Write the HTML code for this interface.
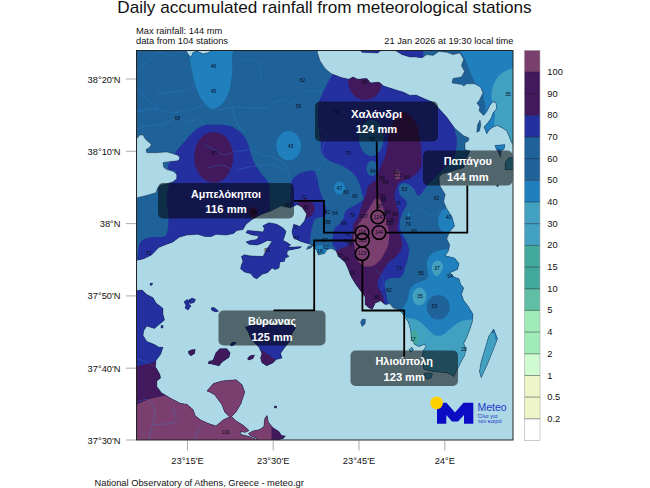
<!DOCTYPE html>
<html><head><meta charset="utf-8"><title>Daily accumulated rainfall</title>
<style>
html,body{margin:0;padding:0;background:#fff;}
body{width:650px;height:488px;overflow:hidden;font-family:"Liberation Sans",sans-serif;}
svg{display:block;}
text{font-family:"Liberation Sans",sans-serif;}
.t{font-size:17.15px;fill:#111;}
.h{font-size:9.3px;fill:#111;}
.k{font-size:9.3px;fill:#111;}
.s{font-size:4.9px;fill:#060a18;text-anchor:middle;}
.c{font-size:4.9px;fill:#10061a;text-anchor:middle;}
.b{font-size:11.7px;font-weight:bold;fill:#fff;text-anchor:middle;}
</style></head><body>
<svg width="650" height="488" viewBox="0 0 650 488">
<defs>
<clipPath id="mapclip"><rect x="136.5" y="50.5" width="376.5" height="389.5"/></clipPath>
<clipPath id="land"><path d="M136,50 L186,50 L188,54 L191,57.5 L193,52.5 L197,51 L203,54 L209,52.5 L211,50 L317.5,50 L317.5,53 L320,60.8 L325,68.5 L331.4,73.8 L342,77.7 L349,79.2 L353,77 L357.5,79.2 L366.8,78.5 L370.6,83 L379,82.3 L383.7,86 L396,90 L403.7,92.3 L410,95.4 L416,95 L425,99 L433,102.3 L437.5,107 L446.8,117.3 L454.5,128 L463.7,135.8 L469,138 L468.3,141 L465,142.7 L465,149.6 L470,151 L466,160 L463.7,167.7 L452,171 L442,174 L439,177 L439.8,185.4 L445.2,194.6 L443.7,201.5 L446.8,209 L452,217 L454.5,226 L449.8,231.5 L446.8,238.8 L449.8,245 L448.3,251 L445.2,255.8 L454.5,258 L459,263.5 L457.5,269.6 L449.8,272.7 L454.5,277.3 L459,278.8 L460.6,284.2 L463.7,288 L461.4,294.2 L463.7,300.4 L468.3,306.5 L473,314.2 L472.2,322 L469.8,329.6 L466.8,337.3 L463.7,343.5 L466,349.6 L464.5,355.8 L462.5,359 L458.7,366.5 L453.7,376.5 L447.5,372.7 L432.5,371.5 L423.7,369 L422.5,356.5 L423,351 L426,346.5 L424.5,344.2 L419,346.5 L414.5,344.2 L411.4,338.8 L410.6,329.6 L408.3,322 L405.2,317.3 L402,313 L399,310 L393,307.7 L389.8,303.8 L385.2,304.6 L380.6,300.8 L375.2,303 L372.2,309.2 L369,307.7 L365.2,304.6 L365.2,297 L360.6,290.8 L356,284.6 L351.4,277 L348.3,269.2 L345.2,262.3 L339,257 L336,250.8 L331.4,248.5 L327,249.5 L324.5,253.5 L318.3,255 L316.8,250.4 L312,245 L307.5,243.5 L299.8,241 L293.7,238 L292,232 L293.7,224.2 L299.8,226.5 L304.5,221 L306.8,214 L302,207 L297.5,204.6 L290,207.7 L280.6,206 L271.4,210.8 L262,214 L254.5,218 L252,219.6 L246,224.2 L243,229.6 L236.8,230.4 L233.7,233.5 L226,235 L216,234.2 L211.4,236.5 L205.2,236.5 L197.5,234.2 L186.8,235 L179,237.3 L173,242 L166.8,244.2 L159,247.3 L151.4,255 L143.7,258.8 L136,260.4 L136,198 L145.2,195.8 L156,192.7 L157.5,188 L160.6,185 L165.2,184.2 L172.9,181.9 L176.8,178.8 L176.8,174.2 L172.9,171.2 L166.8,169.6 L163.7,167.3 L162.9,162.7 L166.8,161.9 L174.5,161.2 L179,160.4 L179.8,157.3 L177.5,155 L166.8,151.9 L156,152.7 L146.8,152.7 L146,149.6 L149.8,147.3 L151.4,144.2 L147.5,141.2 L145.2,138.8 L142.9,135 L139.8,135 L136,139.6ZM136,290.8 L142,290 L146.8,294.6 L153,297.7 L156,303 L163,308.5 L163,314.6 L164.5,320 L159,324.6 L154.5,328.5 L146.8,326 L143.7,330.8 L143,335.4 L146.8,341.5 L154.5,344.6 L159,347.3 L163,347.3 L160.6,354.2 L156,360.4 L155.2,366.5 L159.8,374.2 L160.6,378 L156.8,381 L156.8,386.5 L161.4,392.7 L171.4,398.8 L180.6,403.5 L186.8,404.2 L193,409.6 L195.2,415.8 L200.6,420 L208.5,423.5 L216,426 L223.5,419.7 L229.7,417 L224.7,412 L222,404.7 L214.7,394.7 L209.7,392 L207,391 L213.5,383.5 L222,381 L236,379.7 L242,384.7 L244.7,392 L241,403.5 L236,412 L231.5,416.5 L236.2,421 L243.5,425.5 L249,430.5 L245.4,432.3 L240,431.8 L241,434.5 L248.5,436.3 L256,439.3 L259,441 L136,441ZM248.5,433.5 L253,431 L259.2,429.8 L263.8,426.8 L264.8,418.5 L267,415.4 L268.5,422.5 L273,427.7 L279.2,431.7 L281.4,435.4 L285.4,436 L283.2,438.5 L274.6,441 L259.2,441 L256,438 L250,435.4ZM262.9,225.8 L269,222.7 L276.8,224.2 L283,228 L286,231.2 L284.5,236.5 L283,240.4 L287.5,242.7 L290.6,245 L287.5,247.3 L301.4,246.8 L299.8,248 L287.5,250.4 L286.8,254.2 L289,256.5 L285.2,258 L284.5,261.2 L279.8,262 L279,268 L275.2,269.6 L272.2,268 L267.5,272.7 L262.2,274.2 L256.8,278.8 L253.7,277.3 L250.6,273.5 L244.5,272 L240.6,268.8 L241.4,265 L243,261.2 L241.4,256.5 L244.5,254.7 L249,255.8 L263,256.5 L267.5,248 L272.2,241.2 L267.5,240.4 L261.4,243.5 L256.8,245 L249,244.2 L246,242 L250.6,240.4 L256.8,239.6 L259,235.8 L252.2,235 L246,232.7 L247.5,230.4 L256.8,231.2 L263,232 L264.5,228.8ZM245.2,327.3 L253,325 L277.5,325 L293,325 L296,327.3 L292,333.5 L290,341 L283.7,348.8 L280.6,353.5 L282,358 L276,359.6 L273,362.7 L266.8,365.8 L262,362.7 L260.6,358 L262,353.5 L259,347.3 L251.4,339.6 L248.3,332ZM213,360.4 L216,352.7 L219.8,348.8 L226.8,348.8 L230,352.7 L229,357.3 L222,362 L219,365.8 L213,364.2 L208.3,363.5 L209,361.2ZM359,49 L362,52.3 L377.5,53 L380.6,50.8 L388,49.5 L396,50.8 L402,54.6 L410,57 L416,57 L422,57.7 L426.8,54.6 L433,55.4 L439,51.5 L446.8,52.3 L453,54.6 L459.8,53 L463.7,59.2 L461.4,65.4 L464.5,71.5 L461.4,77 L453,78.5 L452,83 L462,84.6 L463.7,86 L466.8,83.8 L474.5,83.8 L480.6,87 L483,93 L479,100.8 L476.8,103 L479.8,107 L479,110.8 L483.7,115.4 L486.8,111.5 L489.8,105.4 L493,101.5 L496,103 L496.8,108.5 L493,113 L491.4,117.7 L488.3,122.3 L484,127 L486.8,133.8 L489,130 L493,127 L497.5,125.4 L502,127.7 L506.8,130.8 L509,136 L511.4,142.3 L514,146 L514,49ZM493.7,329 L497.5,339 L492.5,351.5 L487.5,364 L481.2,377.7 L479.5,371.5 L481.2,361.5 L485,349 L488.7,336.5ZM184,302 L187,299.5 L190,301 L189,304 L191,306 L188,310 L185,308 L186,305ZM189,300 L192,298 L195.5,299.5 L194,302.5 L190.5,303.5ZM211,308 L214,307.5 L218.5,311 L216,312 L212,310.5ZM188.3,351.5 L191,350 L195.2,349.6 L194.5,353.5 L191,355.8 L189,354ZM230.6,344 L233,342 L236,342.5 L234,345 L231,346ZM247.5,359 L249.5,356 L254.5,355 L253,358.5 L249,360ZM476.8,132.3 L477.5,125 L480,120 L480.8,125 L479.5,131ZM495,145.5 L500,145 L505,144.8 L504,149 L501,151 L500.5,157.5 L498.8,153 L496.5,149.5ZM505,169.6 L505.5,162 L508.5,158 L514,157 L514,169.6ZM423.7,374 L427,372.7 L432.5,374 L431,378 L426,379ZM274.5,406 L276.5,406 L276.5,408 L274.5,408ZM150,283.5 L152.5,283 L152,285 L150.5,285.5ZM161,325.5 L163,325.5 L163,328 L161,328ZM308,246.5 L313,245 L311,248 L306.5,249.5ZM294,227 L297,225 L296,229ZM409,349.5 L412,347.5 L413.5,350 L410.5,352ZM496.8,185 L498.3,185 L498.3,186.6 L496.8,186.6ZM360.5,322 L362.5,319 L365.5,319.5 L365,324 L362,326.5Z"/></clipPath>
</defs>
<rect x="0" y="0" width="650" height="488" fill="#fff"/>
<text class="t" x="324.5" y="12.9" text-anchor="middle">Daily accumulated rainfall from meteorological stations</text>
<text class="h" x="136" y="33.8">Max rainfall: 144 mm</text>
<text class="h" x="136" y="43.9">data from 104 stations</text>
<text class="h" x="513.5" y="43.9" text-anchor="end">21 Jan 2026 at 19:30 local time</text>
<text class="h" x="94.5" y="485.5">National Observatory of Athens, Greece - meteo.gr</text>
<g clip-path="url(#mapclip)">
<rect x="130" y="45" width="390" height="400" fill="#ADD8E6"/>
<g clip-path="url(#land)">
<rect x="130" y="45" width="390" height="400" fill="#1F6299"/>
<path d="M189.8,40C182.8,43 189.4,52.7 189.8,57.7C190.2,62.7 191.1,65.6 192,70C192.9,74.4 193.6,79.4 195,84C196.4,88.6 198.5,94 200.6,97.7C202.7,101.4 205.3,104.2 207.5,106C209.7,107.8 211.3,108.8 213.7,108.5C216.1,108.2 219.4,106.8 222,104C224.6,101.2 227.3,96.7 229,91.5C230.7,86.3 231.5,78.8 232,73C232.5,67.2 232,62.5 232,57C232,51.5 239,42.8 232,40C225,37.2 196.8,37 189.8,40Z" fill="#1F80BD"/>
<ellipse cx="288.6" cy="145.7" rx="12.3" ry="14.6" fill="#1F80BD"/>
<ellipse cx="339.5" cy="188" rx="5.5" ry="6.5" fill="#1F80BD"/>
<ellipse cx="322" cy="249.5" rx="8" ry="4.5" fill="#1F80BD"/>
<path d="M446.8,249.6C450.6,249.4 455.6,248.1 462,249C468.4,249.9 481.2,239 485,255C488.8,271 499.5,330 485,345C470.5,360 412.2,349.8 398,345C383.8,340.2 398.4,323.5 400,316C401.6,308.5 405.9,304.4 407.5,300C409.1,295.6 408.4,292.4 409.8,289.6C411.2,286.9 413.2,285.3 416,283.5C418.8,281.7 424.9,280.9 426.8,278.8C428.7,276.7 427.5,273.8 427.5,271C427.5,268.2 426.2,264.8 426.8,262C427.4,259.2 429.4,255.9 431.4,254C433.4,252.1 436.4,251.1 439,250.4C441.6,249.7 443,249.8 446.8,249.6Z" fill="#1F80BD"/>
<ellipse cx="447.5" cy="221" rx="9.5" ry="12.5" fill="#1F80BD"/>
<path d="M408.7,212 L411,217.5 L406.5,217.5Z" fill="#1F80BD"/>
<path d="M463.7,45C454.8,47.9 465.5,57.4 466.8,62.3C468.1,67.2 469.9,71 471.4,74.6C472.9,78.2 474.1,81.4 476,84C477.9,86.6 481.7,87.5 483,90C484.3,92.5 483.3,96.2 483.7,99C484.1,101.8 485.4,104 485.5,107C485.6,110 484.2,112.3 484,117C483.8,121.7 478,129.5 484,135C490,140.5 514,165 520,150C526,135 529.4,62.5 520,45C510.6,27.5 472.6,42.1 463.7,45Z" fill="#1F80BD"/>
<path d="M494,143 L506,143 L506,148.5 L494,148.5Z" fill="#1F80BD"/>
<path d="M520,66C518.8,51.5 516,66.5 513,67.7C510,68.9 505.1,70.6 502,73C498.9,75.4 496.3,78.7 494.5,82.3C492.7,85.9 491.6,91 491.4,94.6C491.1,98.2 492.4,100.7 493,104C493.6,107.3 494.8,110.8 495,114.6C495.2,118.4 493.7,122.8 494.5,127C495.3,131.2 495.8,135.3 500,140C504.2,144.7 516.7,167.3 520,155C523.3,142.7 521.2,80.5 520,66Z" fill="#42A0C0"/>
<path d="M436.8,260.7C439.1,260.3 440.9,261.4 442.2,263.5C443.5,265.6 443.3,266.7 442.2,269.6C441.1,272.5 439.6,275.1 437.5,275.8C435.4,276.5 434.2,275.2 433,272.7C431.8,270.2 431.3,267.8 432.2,265C433.1,262.2 434.5,261.1 436.8,260.7Z" fill="#42A0C0"/>
<ellipse cx="419.4" cy="296.5" rx="7" ry="9" fill="#42A0C0"/>
<path d="M400,316C401.6,304 404.8,317.4 407.5,318C410.2,318.6 413.3,318.4 416,319.6C418.7,320.8 421.1,322.8 423.7,325C426.3,327.2 429.1,330.9 431.4,332.7C433.7,334.5 435.4,335.6 437.5,335.8C439.6,336.1 441.1,335.8 443.7,334.2C446.3,332.6 449.9,328.7 453,326.5C456.1,324.3 458.8,322.1 462,321C465.2,319.9 468.9,319.9 472.2,319.6C475.5,319.3 480.4,307.3 482,319C483.6,330.7 496,378.2 482,390C468,401.8 411.7,402.3 398,390C384.3,377.7 398.4,328 400,316Z" fill="#42A0C0"/>
<path d="M478,333 L500,333 L500,380 L478,380Z" fill="#42A0C0"/>
<path d="M493,327 L499,327 L499,337 L495.5,340Z" fill="#1F80BD"/>
<path d="M503,156 L515,156 L515,171 L503,171Z" fill="#42A0C0"/>
<ellipse cx="414.3" cy="338" rx="4" ry="7.5" fill="#42A89C"/>
<ellipse cx="438.3" cy="307.3" rx="11.5" ry="12.3" fill="#1F6299"/>
<path d="M137.5,262C137.5,261.5 137.2,262.8 137.5,259.6C137.8,256.4 137.8,249.8 139,245.8C140.2,241.8 141.2,241.3 143.7,239.6C146.2,237.9 147.4,237.9 151.4,237.3C155.4,236.7 160.5,237.9 163.7,236.5C166.9,235.1 166.6,234.1 167.5,230.4C168.4,226.7 168.4,223.1 168.3,218C168.2,212.9 167.3,209.6 167,205C166.7,200.4 166.2,199.6 166.8,195C167.4,190.4 168.2,186.6 170,182C171.8,177.4 176.4,174.8 176,172C175.6,169.2 168.3,171.6 168,168C167.7,164.4 171.1,159.4 174.5,154C177.9,148.6 180.7,145.9 185,141C189.3,136.1 192.2,132.6 196,129.5C199.8,126.4 200.8,126.5 204,125.5C207.2,124.5 207.8,124.7 212,124.6C216.2,124.5 220.5,124.3 225,125C229.5,125.7 230.9,126 234.5,128C238.1,130 240.2,131.6 243,135C245.8,138.4 246.5,140 248.5,145C250.5,150 250.5,154.4 253,160C255.5,165.6 258,168.6 261,173C264,177.4 266.3,178.6 268,182C269.7,185.4 269.1,184 269.5,190C269.9,196 269.9,207.6 270,212 L290,222 L306,240 L306,290 L300,330 L300,372 L130,372 L130,262Z" fill="#2530A0"/>
<path d="M291.4,183C292.8,176.2 293.1,178.6 296,176C298.9,173.4 299.7,173.2 303.7,172C307.7,170.8 309.9,169.9 313,170.8C316.1,171.7 315.2,171.5 316.8,176C318.4,180.5 318,184.1 319.7,190C321.4,195.9 322.4,196.5 324,201.5C325.6,206.5 326.6,208 326.4,211.5C326.2,215 325.7,214.8 323.3,216.5C320.9,218.2 318.5,216.5 316,218.7C313.5,220.9 313.8,221.6 312.5,225.9C311.2,230.2 311,233.3 310.3,237.3C309.6,241.3 311.1,240.5 309.6,243C308.1,245.5 309.7,246.8 304,248C298.3,249.2 288.7,253.4 285,248C281.3,242.6 286.8,235 288,225C289.2,215 289.2,214.8 290,205C290.8,195.2 290,189.8 291.4,183Z" fill="#2530A0"/>
<path d="M332,75.4C328.7,80.1 328.5,81.2 326,86C323.5,90.8 323,92.3 321.4,96C319.8,99.7 319.8,97.6 319,102C318.2,106.4 318,108.5 318,115C318,121.5 318.4,123.9 319,130C319.6,136.1 319.9,135.5 320.6,141C321.3,146.5 319.8,148.8 322,153.5C324.2,158.2 325.3,158.1 330,161C334.7,163.9 336.6,162.9 342,165.8C347.4,168.7 349,169.6 353,173.5C357,177.4 356.9,178 359,182.7C361.1,187.4 361,189.8 362,193.5C363,197.2 364.1,196.4 363.4,198.6C362.7,200.8 362.4,200.7 359,203C355.6,205.3 352.3,206.3 349,208.6C345.7,210.9 346.1,210.6 344.8,213C343.5,215.4 344.7,216 343.3,218.7C341.9,221.4 340.8,222.4 339,224.4C337.2,226.4 336.8,225.3 335.5,227.3C334.2,229.3 334,229 333.3,233C332.6,237 332.3,241.1 332.6,244.5C332.9,247.9 333.9,245.9 334.7,247.4C335.5,248.9 335.2,247.6 336,251C336.8,254.4 334.7,254.1 338,262C341.3,269.9 344.4,273.3 350,285C355.6,296.7 352.7,305.2 362,312C371.3,318.8 383.9,315.7 390,314C396.1,312.3 389.2,309.7 388.3,304.6C387.4,299.5 386.8,297 386,292C385.2,287 384.1,286.1 385,283C385.9,279.9 386.2,279.9 389.8,278.5C393.4,277.1 397,279.5 400.6,277C404.2,274.5 403.4,272.5 405.2,267.7C407,262.9 407.6,261.6 408.3,256.5C409,251.4 409.8,251.2 408.3,245.8C406.8,240.4 404,238.4 402,233.5C400,228.6 399.8,229.2 399.8,224.6C399.8,220 400.4,218.8 402,213.8C403.6,208.8 407.1,207.3 406.8,203C406.5,198.7 402.4,198.4 400.6,195.4C398.8,192.4 399.2,192.3 399,190C398.8,187.7 398.4,187 399.8,185.4C401.2,183.8 402.1,182.5 405.2,183C408.3,183.5 409.8,184.8 413,187.7C416.2,190.6 415.5,196.1 419,195.4C422.5,194.7 423,190.1 428,184.6C433,179.1 435,177.7 440.6,172C446.2,166.3 448.4,165.2 452,160C455.6,154.8 454.9,154.5 456,149.6C457.1,144.7 457.2,144 456.8,139C456.4,134 455.6,134.8 454.5,128C453.4,121.2 455.4,117 452,110C448.6,103 447.5,103.6 440,98C432.5,92.4 434,92.5 420,86C406,79.5 398.7,74.7 380,70C361.3,65.3 351.2,64.7 340,66C328.8,67.3 335.3,70.7 332,75.4Z" fill="#2530A0"/>
<path d="M355,45 L423,45 L423.5,57 L420,60 L355,60Z" fill="#2530A0"/>
<ellipse cx="371.3" cy="138" rx="12.3" ry="18" fill="#1F6299"/>
<ellipse cx="372" cy="168.3" rx="5.6" ry="7.6" fill="#1F6299"/>
<ellipse cx="213.7" cy="157.3" rx="19.6" ry="25.4" fill="#42195C"/>
<ellipse cx="365.2" cy="81" rx="17" ry="19" fill="#42195C"/>
<ellipse cx="253.3" cy="212.4" rx="4.5" ry="5.5" fill="#42195C"/>
<ellipse cx="305.5" cy="208.5" rx="9" ry="9.5" fill="#42195C"/>
<path d="M405,112C409.1,113.8 411.9,115.4 415.5,122.5C419.1,129.6 419.1,133.8 420.5,142.5C421.9,151.2 421.7,154.1 421.7,160C421.7,165.9 422.3,164.1 420.6,167.7C418.9,171.3 418.1,172.5 414.5,175.4C410.9,178.3 408.8,178.2 405.2,180C401.6,181.8 401.1,180.9 399,183C396.9,185.1 397.1,186.2 396,189C394.9,191.8 394.5,191.5 394.5,195C394.5,198.5 394.9,199.3 396,204C397.1,208.7 398.6,209.2 399,215C399.4,220.8 397.3,224.3 397.5,229C397.7,233.7 398.9,231.1 400,235C401.1,238.9 402.9,240.8 402,245.8C401.1,250.8 399.2,252.5 396,256.5C392.8,260.5 391.9,258.6 388.3,263C384.7,267.4 383.1,270.4 380.6,275.4C378.1,280.4 377.2,280.3 377.5,284.6C377.8,288.9 380.6,290.2 382,294C383.4,297.8 383.2,296.1 383.7,300.8C384.2,305.5 389.5,310.9 384,314C378.5,317.1 369.1,325.2 360,314C350.9,302.8 350.6,280.2 345,266C339.4,251.8 337.7,256.7 336,253C334.3,249.3 335.9,251.6 337.6,250.3C339.3,249 340.6,248.8 343.3,247.4C346,246 346.8,247.9 349,244.5C351.2,241.1 351.7,237.7 352.7,233C353.7,228.3 352.2,228.1 353.4,224.4C354.6,220.7 355.7,222 357.7,217.3C359.7,212.6 360.1,209.7 362,204.3C363.9,198.9 364.5,198.6 366,194.3C367.5,190 366,189.4 368.3,186C370.6,182.6 373.5,183.2 376,179.6C378.5,176 376.7,176.6 379,170.4C381.3,164.2 383.7,161.3 386,153C388.3,144.7 387.7,141.5 389,135C390.3,128.5 389.4,129.7 391.5,125C393.6,120.3 394.9,118 398,115C401.1,112 400.9,110.2 405,112Z" fill="#42195C"/>
<path d="M130,367.5C131.2,367.3 130.8,367.8 136,366.5C141.2,365.2 148.2,363.9 156,361C163.8,358.1 168.2,354.8 175,352C181.8,349.2 183,348.4 190,347C197,345.6 201,345.3 210,345C219,344.7 227,345.2 235,345.5C243,345.8 244.6,345.5 250,346.5C255.4,347.5 256.8,347.6 262,350.4C267.2,353.2 270,355.7 276,360.4C282,365.1 288.8,371.3 292,374 L300,445 L130,445Z" fill="#42195C"/>
<path d="M376,198C373.6,200.1 373.7,201.2 370,207C366.3,212.8 365.3,214.6 362,219.6C358.7,224.6 359.7,221.7 357.5,225.8C355.3,229.9 354.5,229.7 353.7,235C352.9,240.3 353.7,240.1 354.5,245.8C355.3,251.5 355.2,251.6 356.8,256.5C358.4,261.4 357.5,261.3 360.6,264C363.7,266.7 363.8,266.8 368.3,266.5C372.8,266.2 373,266.6 377.5,262.7C382,258.8 381.9,258.2 385,252C388.1,245.8 388.3,246.6 389,239.6C389.7,232.6 388.6,232.4 387.5,225.8C386.4,219.2 386.5,220.8 385,215C383.5,209.2 383.6,208.3 382,204C380.4,199.7 380.6,200.6 379,199C377.4,197.4 378.4,195.9 376,198Z" fill="#7B3F6F"/>
<ellipse cx="397.5" cy="174.6" rx="3" ry="5" fill="#7B3F6F"/>
<path d="M130,407C131.2,406.6 132,406.6 136,405C140,403.4 144.2,400.9 150,399C155.8,397.1 158,397.5 165,395.5C172,393.5 178,392.1 185,389C192,385.9 194,383 200,380C206,377 207,375.4 215,374C223,372.6 232,371.8 240,373C248,374.2 250,375.6 255,380C260,384.4 261.8,389 265,395C268.2,401 269.7,404 271,410C272.3,416 271.4,422 271.5,425 L271.5,445 L130,445Z" fill="#7B3F6F"/>
<path d="M136,70C138.3,68.3 146,63 150,60C154,57 156.7,52.7 160,52C163.3,51.3 166.7,56.2 170,56C173.3,55.8 178.3,51.8 180,51" fill="none" stroke="#2E86D6" stroke-opacity="0.55" stroke-width="0.6"/>
<path d="M136,87C137.7,88.8 142.8,95 146,98C149.2,101 153.3,103.2 155,105C156.7,106.8 157.2,108.2 156,109C154.8,109.8 151.3,109.5 148,110C144.7,110.5 138,111.7 136,112" fill="none" stroke="#2E86D6" stroke-opacity="0.55" stroke-width="0.6"/>
<path d="M156,94C159.2,93.7 170,92.7 175,92C180,91.3 182.7,91.3 186,90C189.3,88.7 193.5,85 195,84" fill="none" stroke="#2E86D6" stroke-opacity="0.55" stroke-width="0.6"/>
<path d="M136,112C138.3,111.3 144.3,108 150,108C155.7,108 165,111.3 170,112C175,112.7 175.7,112.7 180,112C184.3,111.3 192,109.2 196,108C200,106.8 202.7,105.5 204,105" fill="none" stroke="#2E86D6" stroke-opacity="0.55" stroke-width="0.6"/>
<path d="M204,105C205.8,105.8 210.7,109.5 215,110C219.3,110.5 226.5,108.7 230,108C233.5,107.3 235,106.3 236,106" fill="none" stroke="#2E86D6" stroke-opacity="0.55" stroke-width="0.6"/>
<path d="M236,62C238.3,61.5 245.7,58.7 250,59C254.3,59.3 260.3,62.2 262,64C263.7,65.8 260.2,68 260,70C259.8,72 261.3,74 261,76C260.7,78 259.5,81 258,82C256.5,83 253,82 252,82" fill="none" stroke="#2E86D6" stroke-opacity="0.55" stroke-width="0.6"/>
<path d="M236,107C241,107.2 260,108.7 266,108C272,107.3 269,104.3 272,103C275,101.7 281,100 284,100C287,100 287.7,103.5 290,103C292.3,102.5 296,98.7 298,97C300,95.3 300,94 302,93C304,92 306.7,91.2 310,91C313.3,90.8 320,91.8 322,92" fill="none" stroke="#2E86D6" stroke-opacity="0.55" stroke-width="0.6"/>
<path d="M160,125C162.7,124 171,119.5 176,119C181,118.5 186.5,122.2 190,122C193.5,121.8 194.8,117.7 197,118C199.2,118.3 202,123 203,124" fill="none" stroke="#2E86D6" stroke-opacity="0.55" stroke-width="0.6"/>
<path d="M136,131C137.5,130.2 141,127 145,126C149,125 157.5,125.2 160,125" fill="none" stroke="#2E86D6" stroke-opacity="0.55" stroke-width="0.6"/>
<path d="M232,107C232.5,108.8 233.7,114.5 235,118C236.3,121.5 238.2,125.7 240,128C241.8,130.3 245,131.3 246,132" fill="none" stroke="#2E86D6" stroke-opacity="0.55" stroke-width="0.6"/>
<path d="M205,145C206.7,145.8 211.7,148.3 215,150C218.3,151.7 221.5,155 225,155C228.5,155 234.2,150.8 236,150" fill="none" stroke="#2E86D6" stroke-opacity="0.55" stroke-width="0.6"/>
<path d="M208,168C210.3,167.5 218,164.7 222,165C226,165.3 230.3,169.2 232,170" fill="none" stroke="#2E86D6" stroke-opacity="0.55" stroke-width="0.6"/>
<path d="M236,152C238.3,151.7 245.7,149.5 250,150C254.3,150.5 257.8,153.7 262,155C266.2,156.3 271.2,156.3 275,158C278.8,159.7 282.5,161.3 285,165C287.5,168.7 289.2,177.5 290,180" fill="none" stroke="#2E86D6" stroke-opacity="0.55" stroke-width="0.6"/>
<path d="M236,170C239.2,169.3 249.3,166.8 255,166C260.7,165.2 265,164.3 270,165C275,165.7 282.5,169.2 285,170" fill="none" stroke="#2E86D6" stroke-opacity="0.55" stroke-width="0.6"/>
<path d="M320,128C321,129.5 325.7,133.3 326,137C326.3,140.7 322.2,146.2 322,150C321.8,153.8 325.7,156.7 325,160C324.3,163.3 319.7,166.7 318,170C316.3,173.3 315.5,178.3 315,180" fill="none" stroke="#2E86D6" stroke-opacity="0.55" stroke-width="0.6"/>
<path d="M137.7,401.5C139.5,401.2 145.7,398.4 148.5,400C151.3,401.6 153.8,407 154.6,410.8C155.3,414.6 154,418.1 153,423C152,427.9 149.2,437.2 148.5,440" fill="none" stroke="#2E86D6" stroke-opacity="0.55" stroke-width="0.6"/>
<path d="M153,424.6C156.3,424.3 169.2,424.3 173,423C176.8,421.7 176,419.3 176,417C176,414.7 172.7,410 173,409C173.3,408 176.9,410.5 177.7,410.8" fill="none" stroke="#2E86D6" stroke-opacity="0.55" stroke-width="0.6"/>
<path d="M194.6,440C195.3,438.2 197.2,431.8 199,429C200.8,426.2 204.3,424 205.4,423" fill="none" stroke="#2E86D6" stroke-opacity="0.55" stroke-width="0.6"/>
<path d="M137,358.5C138.5,359.1 143.3,360.8 146,362C148.7,363.2 151.8,365.3 153,366" fill="none" stroke="#2E86D6" stroke-opacity="0.55" stroke-width="0.6"/>
<path d="M376,270C376.8,270.8 379.7,273 381,275C382.3,277 384,279.5 384,282C384,284.5 381.5,288.7 381,290" fill="none" stroke="#2E86D6" stroke-opacity="0.55" stroke-width="0.6"/>
<path d="M436,314C436.2,315.8 437.7,321.5 437,325C436.3,328.5 434,331.7 432,335C430,338.3 426.2,343.3 425,345" fill="none" stroke="#2E86D6" stroke-opacity="0.55" stroke-width="0.6"/>
<path d="M418,208C420,209.2 426.3,214.3 430,215C433.7,215.7 437.2,213.7 440,212C442.8,210.3 445.8,206.2 447,205" fill="none" stroke="#2E86D6" stroke-opacity="0.55" stroke-width="0.6"/>
</g>
<path d="M136,50 L186,50 L188,54 L191,57.5 L193,52.5 L197,51 L203,54 L209,52.5 L211,50 L317.5,50 L317.5,53 L320,60.8 L325,68.5 L331.4,73.8 L342,77.7 L349,79.2 L353,77 L357.5,79.2 L366.8,78.5 L370.6,83 L379,82.3 L383.7,86 L396,90 L403.7,92.3 L410,95.4 L416,95 L425,99 L433,102.3 L437.5,107 L446.8,117.3 L454.5,128 L463.7,135.8 L469,138 L468.3,141 L465,142.7 L465,149.6 L470,151 L466,160 L463.7,167.7 L452,171 L442,174 L439,177 L439.8,185.4 L445.2,194.6 L443.7,201.5 L446.8,209 L452,217 L454.5,226 L449.8,231.5 L446.8,238.8 L449.8,245 L448.3,251 L445.2,255.8 L454.5,258 L459,263.5 L457.5,269.6 L449.8,272.7 L454.5,277.3 L459,278.8 L460.6,284.2 L463.7,288 L461.4,294.2 L463.7,300.4 L468.3,306.5 L473,314.2 L472.2,322 L469.8,329.6 L466.8,337.3 L463.7,343.5 L466,349.6 L464.5,355.8 L462.5,359 L458.7,366.5 L453.7,376.5 L447.5,372.7 L432.5,371.5 L423.7,369 L422.5,356.5 L423,351 L426,346.5 L424.5,344.2 L419,346.5 L414.5,344.2 L411.4,338.8 L410.6,329.6 L408.3,322 L405.2,317.3 L402,313 L399,310 L393,307.7 L389.8,303.8 L385.2,304.6 L380.6,300.8 L375.2,303 L372.2,309.2 L369,307.7 L365.2,304.6 L365.2,297 L360.6,290.8 L356,284.6 L351.4,277 L348.3,269.2 L345.2,262.3 L339,257 L336,250.8 L331.4,248.5 L327,249.5 L324.5,253.5 L318.3,255 L316.8,250.4 L312,245 L307.5,243.5 L299.8,241 L293.7,238 L292,232 L293.7,224.2 L299.8,226.5 L304.5,221 L306.8,214 L302,207 L297.5,204.6 L290,207.7 L280.6,206 L271.4,210.8 L262,214 L254.5,218 L252,219.6 L246,224.2 L243,229.6 L236.8,230.4 L233.7,233.5 L226,235 L216,234.2 L211.4,236.5 L205.2,236.5 L197.5,234.2 L186.8,235 L179,237.3 L173,242 L166.8,244.2 L159,247.3 L151.4,255 L143.7,258.8 L136,260.4 L136,198 L145.2,195.8 L156,192.7 L157.5,188 L160.6,185 L165.2,184.2 L172.9,181.9 L176.8,178.8 L176.8,174.2 L172.9,171.2 L166.8,169.6 L163.7,167.3 L162.9,162.7 L166.8,161.9 L174.5,161.2 L179,160.4 L179.8,157.3 L177.5,155 L166.8,151.9 L156,152.7 L146.8,152.7 L146,149.6 L149.8,147.3 L151.4,144.2 L147.5,141.2 L145.2,138.8 L142.9,135 L139.8,135 L136,139.6ZM136,290.8 L142,290 L146.8,294.6 L153,297.7 L156,303 L163,308.5 L163,314.6 L164.5,320 L159,324.6 L154.5,328.5 L146.8,326 L143.7,330.8 L143,335.4 L146.8,341.5 L154.5,344.6 L159,347.3 L163,347.3 L160.6,354.2 L156,360.4 L155.2,366.5 L159.8,374.2 L160.6,378 L156.8,381 L156.8,386.5 L161.4,392.7 L171.4,398.8 L180.6,403.5 L186.8,404.2 L193,409.6 L195.2,415.8 L200.6,420 L208.5,423.5 L216,426 L223.5,419.7 L229.7,417 L224.7,412 L222,404.7 L214.7,394.7 L209.7,392 L207,391 L213.5,383.5 L222,381 L236,379.7 L242,384.7 L244.7,392 L241,403.5 L236,412 L231.5,416.5 L236.2,421 L243.5,425.5 L249,430.5 L245.4,432.3 L240,431.8 L241,434.5 L248.5,436.3 L256,439.3 L259,441 L136,441ZM248.5,433.5 L253,431 L259.2,429.8 L263.8,426.8 L264.8,418.5 L267,415.4 L268.5,422.5 L273,427.7 L279.2,431.7 L281.4,435.4 L285.4,436 L283.2,438.5 L274.6,441 L259.2,441 L256,438 L250,435.4ZM262.9,225.8 L269,222.7 L276.8,224.2 L283,228 L286,231.2 L284.5,236.5 L283,240.4 L287.5,242.7 L290.6,245 L287.5,247.3 L301.4,246.8 L299.8,248 L287.5,250.4 L286.8,254.2 L289,256.5 L285.2,258 L284.5,261.2 L279.8,262 L279,268 L275.2,269.6 L272.2,268 L267.5,272.7 L262.2,274.2 L256.8,278.8 L253.7,277.3 L250.6,273.5 L244.5,272 L240.6,268.8 L241.4,265 L243,261.2 L241.4,256.5 L244.5,254.7 L249,255.8 L263,256.5 L267.5,248 L272.2,241.2 L267.5,240.4 L261.4,243.5 L256.8,245 L249,244.2 L246,242 L250.6,240.4 L256.8,239.6 L259,235.8 L252.2,235 L246,232.7 L247.5,230.4 L256.8,231.2 L263,232 L264.5,228.8ZM245.2,327.3 L253,325 L277.5,325 L293,325 L296,327.3 L292,333.5 L290,341 L283.7,348.8 L280.6,353.5 L282,358 L276,359.6 L273,362.7 L266.8,365.8 L262,362.7 L260.6,358 L262,353.5 L259,347.3 L251.4,339.6 L248.3,332ZM213,360.4 L216,352.7 L219.8,348.8 L226.8,348.8 L230,352.7 L229,357.3 L222,362 L219,365.8 L213,364.2 L208.3,363.5 L209,361.2ZM359,49 L362,52.3 L377.5,53 L380.6,50.8 L388,49.5 L396,50.8 L402,54.6 L410,57 L416,57 L422,57.7 L426.8,54.6 L433,55.4 L439,51.5 L446.8,52.3 L453,54.6 L459.8,53 L463.7,59.2 L461.4,65.4 L464.5,71.5 L461.4,77 L453,78.5 L452,83 L462,84.6 L463.7,86 L466.8,83.8 L474.5,83.8 L480.6,87 L483,93 L479,100.8 L476.8,103 L479.8,107 L479,110.8 L483.7,115.4 L486.8,111.5 L489.8,105.4 L493,101.5 L496,103 L496.8,108.5 L493,113 L491.4,117.7 L488.3,122.3 L484,127 L486.8,133.8 L489,130 L493,127 L497.5,125.4 L502,127.7 L506.8,130.8 L509,136 L511.4,142.3 L514,146 L514,49ZM493.7,329 L497.5,339 L492.5,351.5 L487.5,364 L481.2,377.7 L479.5,371.5 L481.2,361.5 L485,349 L488.7,336.5ZM184,302 L187,299.5 L190,301 L189,304 L191,306 L188,310 L185,308 L186,305ZM189,300 L192,298 L195.5,299.5 L194,302.5 L190.5,303.5ZM211,308 L214,307.5 L218.5,311 L216,312 L212,310.5ZM188.3,351.5 L191,350 L195.2,349.6 L194.5,353.5 L191,355.8 L189,354ZM230.6,344 L233,342 L236,342.5 L234,345 L231,346ZM247.5,359 L249.5,356 L254.5,355 L253,358.5 L249,360ZM476.8,132.3 L477.5,125 L480,120 L480.8,125 L479.5,131ZM495,145.5 L500,145 L505,144.8 L504,149 L501,151 L500.5,157.5 L498.8,153 L496.5,149.5ZM505,169.6 L505.5,162 L508.5,158 L514,157 L514,169.6ZM423.7,374 L427,372.7 L432.5,374 L431,378 L426,379ZM274.5,406 L276.5,406 L276.5,408 L274.5,408ZM150,283.5 L152.5,283 L152,285 L150.5,285.5ZM161,325.5 L163,325.5 L163,328 L161,328ZM308,246.5 L313,245 L311,248 L306.5,249.5ZM294,227 L297,225 L296,229ZM409,349.5 L412,347.5 L413.5,350 L410.5,352ZM496.8,185 L498.3,185 L498.3,186.6 L496.8,186.6ZM360.5,322 L362.5,319 L365.5,319.5 L365,324 L362,326.5Z" fill="none" stroke="#0b1530" stroke-opacity="0.8" stroke-width="0.45" stroke-linejoin="round"/>
<text class="s" x="213.5" y="67.7">46</text><text class="s" x="213.5" y="92.7">45</text><text class="s" x="177.5" y="120.2">68</text><text class="s" x="214.5" y="154.7">87</text><text class="s" x="302.5" y="81.7">62</text><text class="s" x="298.5" y="108.2">56</text><text class="s" x="290.5" y="148.2">43</text><text class="s" x="364.5" y="84.2">94</text><text class="s" x="336.5" y="114.2">79</text><text class="s" x="348.3" y="155.2">79</text><text class="s" x="372.5" y="141.2">56</text><text class="s" x="373" y="172.7">64</text><text class="s" x="382" y="179.7">85</text><text class="s" x="385.5" y="184.2">84</text><text class="s" x="396.5" y="173.7">98</text><text class="s" x="397.5" y="176.7">113</text><text class="s" x="407" y="179.2">81</text><text class="s" x="404.5" y="190.7">53</text><text class="s" x="339.5" y="190.2">47</text><text class="s" x="346" y="193.7">60</text><text class="s" x="355" y="198.2">60</text><text class="s" x="383" y="197.7">92</text><text class="s" x="383.5" y="202.2">88</text><text class="s" x="380" y="207.7">97</text><text class="s" x="304" y="198.7">72</text><text class="s" x="306" y="208.7">65</text><text class="s" x="335" y="214.7">64</text><text class="s" x="352" y="216.7">79</text><text class="s" x="344" y="225.2">69</text><text class="s" x="347.5" y="236.2">71</text><text class="s" x="350" y="245.7">78</text><text class="s" x="346" y="242.7">75</text><text class="s" x="325" y="241.7">57</text><text class="s" x="326" y="248.7">62</text><text class="s" x="320" y="252.7">18</text><text class="s" x="340" y="256.7">65</text><text class="s" x="346" y="261.2">64</text><text class="s" x="352" y="274.7">93</text><text class="s" x="398" y="204.7">76</text><text class="s" x="395" y="215.7">84</text><text class="s" x="408" y="220.2">44</text><text class="s" x="408" y="226.2">70</text><text class="s" x="414" y="233.2">60</text><text class="s" x="436.5" y="200.2">62</text><text class="s" x="448.5" y="219.2">40</text><text class="s" x="399" y="269.7">73</text><text class="s" x="421" y="274.7">55</text><text class="s" x="437" y="270.2">37</text><text class="s" x="389" y="291.7">62</text><text class="s" x="377" y="298.7">85</text><text class="s" x="420" y="298.2">35</text><text class="s" x="434.5" y="308.2">53</text><text class="s" x="413" y="340.7">17</text><text class="s" x="464" y="350.7">28</text><text class="s" x="508" y="95.7">35</text><text class="s" x="148.5" y="255.2">70</text><text class="s" x="267" y="251.7">80</text><text class="s" x="296.5" y="240.2">77</text><text class="s" x="225.5" y="434.2">100</text><text class="s" x="253.5" y="213.7">99</text><text class="s" x="287.5" y="207.2">80</text><text class="s" x="384" y="215.7">79</text><text class="s" x="388" y="213.7">89</text><text class="s" x="364" y="217.7">107</text><text class="s" x="390" y="221.7">120</text><text class="s" x="327.5" y="213.7">82</text><text class="s" x="328" y="223.7">88</text><text class="s" x="389" y="224.7">100</text><text class="s" x="450" y="278.2">54</text>
<path d="M376.7,141.5 L377.4,209.8" fill="none" stroke="#000" stroke-width="1.8" stroke-linejoin="miter"/>
<path d="M385.8,232.6 L467.3,232.6 L467.3,185.5" fill="none" stroke="#000" stroke-width="1.8" stroke-linejoin="miter"/>
<path d="M294,200.8 L324,200.8 L324,232.6 L355.4,232.6" fill="none" stroke="#000" stroke-width="1.8" stroke-linejoin="miter"/>
<path d="M355.4,240.5 L314.2,240.5 L314.2,310.4 L273.5,310.4" fill="none" stroke="#000" stroke-width="1.8" stroke-linejoin="miter"/>
<path d="M362.4,260.8 L362.4,310.5 L404.2,310.5 L404.2,356.5" fill="none" stroke="#000" stroke-width="1.8" stroke-linejoin="miter"/>
<circle cx="377.8" cy="217" r="6.8" fill="none" stroke="#000" stroke-width="1.6"/><text class="c" x="377.8" y="218.7">124</text>
<circle cx="379" cy="232.6" r="6.8" fill="none" stroke="#000" stroke-width="1.6"/><text class="c" x="379" y="234.3">144</text>
<circle cx="362.1" cy="232.6" r="6.8" fill="none" stroke="#000" stroke-width="1.6"/><text class="c" x="362.1" y="234.3">116</text>
<circle cx="362.5" cy="240.2" r="6.8" fill="none" stroke="#000" stroke-width="1.6"/><text class="c" x="362.5" y="241.9">125</text>
<circle cx="362.1" cy="253.6" r="6.8" fill="none" stroke="#000" stroke-width="1.6"/><text class="c" x="362.1" y="255.3">123</text>
<rect x="315" y="101.5" width="123" height="40" rx="5" ry="5" fill="#000" fill-opacity="0.53"/>
<text class="b" x="376.5" y="117.9" textLength="51.2" lengthAdjust="spacingAndGlyphs">Χαλάνδρι</text><text class="b" x="376.5" y="133.3" textLength="41.5" lengthAdjust="spacingAndGlyphs">124 mm</text>
<rect x="423" y="150.5" width="89.5" height="35" rx="5" ry="5" fill="#000" fill-opacity="0.53"/>
<text class="b" x="467.8" y="165.1" textLength="48.3" lengthAdjust="spacingAndGlyphs">Παπάγου</text><text class="b" x="467.8" y="180.5" textLength="41.5" lengthAdjust="spacingAndGlyphs">144 mm</text>
<rect x="158" y="183" width="136" height="35.5" rx="5" ry="5" fill="#000" fill-opacity="0.53"/>
<text class="b" x="226" y="197.8" textLength="70" lengthAdjust="spacingAndGlyphs">Αμπελόκηποι</text><text class="b" x="226" y="213.2" textLength="41.3" lengthAdjust="spacingAndGlyphs">116 mm</text>
<rect x="218.5" y="310.5" width="107" height="35" rx="5" ry="5" fill="#000" fill-opacity="0.53"/>
<text class="b" x="272" y="325.1" textLength="48" lengthAdjust="spacingAndGlyphs">Βύρωνας</text><text class="b" x="272" y="340.5" textLength="41" lengthAdjust="spacingAndGlyphs">125 mm</text>
<rect x="350.5" y="350.5" width="107.5" height="35.5" rx="5" ry="5" fill="#000" fill-opacity="0.53"/>
<text class="b" x="404.2" y="365.4" textLength="57.5" lengthAdjust="spacingAndGlyphs">Ηλιούπολη</text><text class="b" x="404.2" y="380.8" textLength="41.3" lengthAdjust="spacingAndGlyphs">123 mm</text>
<path d="M437,402.8 L446.5,402.8 L455,412.5 L463.5,402.8 L473.3,402.8 L473.3,423.7 L464,423.7 L464,415 L458,421.5 L452,421.5 L446.3,415 L446.3,423.7 L437,423.7 Z" fill="#0C0CC4"/>
<circle cx="436.6" cy="402.8" r="6.4" fill="#FFD000"/>
<text x="477.5" y="411" textLength="29.2" lengthAdjust="spacingAndGlyphs" style="font-size:10.9px;fill:#2038C8;">Meteo</text>
<text x="478" y="418" textLength="19.5" lengthAdjust="spacingAndGlyphs" style="font-size:5.1px;fill:#2038C8;">Όλα για</text>
<text x="478" y="423.4" textLength="23.7" lengthAdjust="spacingAndGlyphs" style="font-size:5.1px;fill:#2038C8;">τον καιρό</text>
</g>
<rect x="136.5" y="50.5" width="376.5" height="389.5" fill="none" stroke="#222" stroke-width="1"/>
<line x1="187.5" y1="440" x2="187.5" y2="450.5" stroke="#888" stroke-width="0.7"/><text class="k" x="187.5" y="463.8" text-anchor="middle">23°15'E</text>
<line x1="273.2" y1="440" x2="273.2" y2="450.5" stroke="#888" stroke-width="0.7"/><text class="k" x="273.2" y="463.8" text-anchor="middle">23°30'E</text>
<line x1="359" y1="440" x2="359" y2="450.5" stroke="#888" stroke-width="0.7"/><text class="k" x="359" y="463.8" text-anchor="middle">23°45'E</text>
<line x1="444.8" y1="440" x2="444.8" y2="450.5" stroke="#888" stroke-width="0.7"/><text class="k" x="444.8" y="463.8" text-anchor="middle">24°E</text>
<line x1="126" y1="79" x2="136" y2="79" stroke="#888" stroke-width="0.7"/><text class="k" x="120.5" y="82.5" text-anchor="end">38°20'N</text>
<line x1="126" y1="151.3" x2="136" y2="151.3" stroke="#888" stroke-width="0.7"/><text class="k" x="120.5" y="154.8" text-anchor="end">38°10'N</text>
<line x1="126" y1="223.6" x2="136" y2="223.6" stroke="#888" stroke-width="0.7"/><text class="k" x="120.5" y="227.1" text-anchor="end">38°N</text>
<line x1="126" y1="295.9" x2="136" y2="295.9" stroke="#888" stroke-width="0.7"/><text class="k" x="120.5" y="299.4" text-anchor="end">37°50'N</text>
<line x1="126" y1="368.2" x2="136" y2="368.2" stroke="#888" stroke-width="0.7"/><text class="k" x="120.5" y="371.7" text-anchor="end">37°40'N</text>
<line x1="126" y1="440" x2="136" y2="440" stroke="#888" stroke-width="0.7"/><text class="k" x="120.5" y="443.5" text-anchor="end">37°30'N</text>
<rect x="524.3" y="50.3" width="15.7" height="22" fill="#7B3F6F"/><rect x="524.3" y="72" width="15.7" height="22" fill="#42195C"/><rect x="524.3" y="93.7" width="15.7" height="22" fill="#42195C"/><rect x="524.3" y="115.3" width="15.7" height="22" fill="#2530A0"/><rect x="524.3" y="137" width="15.7" height="22" fill="#1F6299"/><rect x="524.3" y="158.7" width="15.7" height="22" fill="#1F6299"/><rect x="524.3" y="180.4" width="15.7" height="22" fill="#1F80BD"/><rect x="524.3" y="202" width="15.7" height="22" fill="#42A0C0"/><rect x="524.3" y="223.7" width="15.7" height="22" fill="#42A0C0"/><rect x="524.3" y="245.4" width="15.7" height="22" fill="#42A89C"/><rect x="524.3" y="267.1" width="15.7" height="22" fill="#42A89C"/><rect x="524.3" y="288.8" width="15.7" height="22" fill="#5FBEA4"/><rect x="524.3" y="310.4" width="15.7" height="22" fill="#A0EBB8"/><rect x="524.3" y="332.1" width="15.7" height="22" fill="#A0EBB8"/><rect x="524.3" y="353.8" width="15.7" height="22" fill="#D0FAD0"/><rect x="524.3" y="375.5" width="15.7" height="22" fill="#EEF5C8"/><rect x="524.3" y="397.1" width="15.7" height="22" fill="#EEF5C8"/><rect x="524.3" y="418.8" width="15.7" height="22" fill="#FFFFFF"/>
<line x1="524.3" y1="72" x2="540" y2="72" stroke="#1a1a2a" stroke-opacity="0.75" stroke-width="0.6"/><text class="k" x="547.3" y="75">100</text>
<line x1="524.3" y1="93.7" x2="540" y2="93.7" stroke="#1a1a2a" stroke-opacity="0.75" stroke-width="0.6"/><text class="k" x="547.3" y="96.7">90</text>
<line x1="524.3" y1="115.3" x2="540" y2="115.3" stroke="#1a1a2a" stroke-opacity="0.75" stroke-width="0.6"/><text class="k" x="547.3" y="118.3">80</text>
<line x1="524.3" y1="137" x2="540" y2="137" stroke="#1a1a2a" stroke-opacity="0.75" stroke-width="0.6"/><text class="k" x="547.3" y="140">70</text>
<line x1="524.3" y1="158.7" x2="540" y2="158.7" stroke="#1a1a2a" stroke-opacity="0.75" stroke-width="0.6"/><text class="k" x="547.3" y="161.7">60</text>
<line x1="524.3" y1="180.4" x2="540" y2="180.4" stroke="#1a1a2a" stroke-opacity="0.75" stroke-width="0.6"/><text class="k" x="547.3" y="183.4">50</text>
<line x1="524.3" y1="202" x2="540" y2="202" stroke="#1a1a2a" stroke-opacity="0.75" stroke-width="0.6"/><text class="k" x="547.3" y="205">40</text>
<line x1="524.3" y1="223.7" x2="540" y2="223.7" stroke="#1a1a2a" stroke-opacity="0.75" stroke-width="0.6"/><text class="k" x="547.3" y="226.7">30</text>
<line x1="524.3" y1="245.4" x2="540" y2="245.4" stroke="#1a1a2a" stroke-opacity="0.75" stroke-width="0.6"/><text class="k" x="547.3" y="248.4">20</text>
<line x1="524.3" y1="267.1" x2="540" y2="267.1" stroke="#1a1a2a" stroke-opacity="0.75" stroke-width="0.6"/><text class="k" x="547.3" y="270.1">15</text>
<line x1="524.3" y1="288.8" x2="540" y2="288.8" stroke="#1a1a2a" stroke-opacity="0.75" stroke-width="0.6"/><text class="k" x="547.3" y="291.8">10</text>
<line x1="524.3" y1="310.4" x2="540" y2="310.4" stroke="#1a1a2a" stroke-opacity="0.75" stroke-width="0.6"/><text class="k" x="547.3" y="313.4">5</text>
<line x1="524.3" y1="332.1" x2="540" y2="332.1" stroke="#1a1a2a" stroke-opacity="0.75" stroke-width="0.6"/><text class="k" x="547.3" y="335.1">4</text>
<line x1="524.3" y1="353.8" x2="540" y2="353.8" stroke="#1a1a2a" stroke-opacity="0.75" stroke-width="0.6"/><text class="k" x="547.3" y="356.8">2</text>
<line x1="524.3" y1="375.5" x2="540" y2="375.5" stroke="#1a1a2a" stroke-opacity="0.75" stroke-width="0.6"/><text class="k" x="547.3" y="378.5">1</text>
<line x1="524.3" y1="397.1" x2="540" y2="397.1" stroke="#1a1a2a" stroke-opacity="0.75" stroke-width="0.6"/><text class="k" x="547.3" y="400.1">0.5</text>
<line x1="524.3" y1="418.8" x2="540" y2="418.8" stroke="#1a1a2a" stroke-opacity="0.75" stroke-width="0.6"/><text class="k" x="547.3" y="421.8">0.2</text>
<rect x="524.3" y="50.3" width="15.7" height="390.2" fill="none" stroke="#aaa" stroke-width="0.6"/>
</svg>
</body></html>
